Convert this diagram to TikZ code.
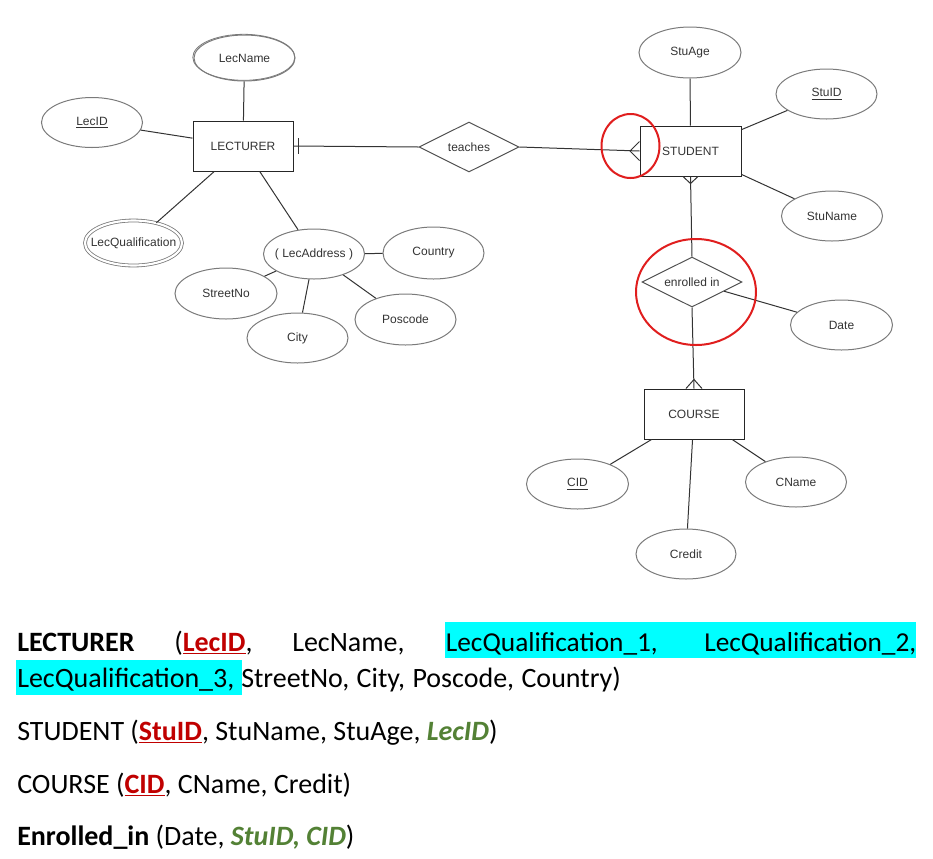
\documentclass[tikz,border=0pt]{standalone}
\usepackage{fontspec}
\setmainfont{Carlito}
\newfontfamily\arialf{Liberation Sans}
\usetikzlibrary{shapes.geometric,calc}
\definecolor{keyred}{HTML}{C00000}
\definecolor{fkgreen}{HTML}{538135}
\definecolor{hl}{HTML}{00FFFF}
\definecolor{circred}{HTML}{E01E1E}
\definecolor{ln}{HTML}{333333}
\definecolor{el}{HTML}{7A7A7A}
\newcommand{\pkey}[1]{\textcolor{keyred}{\textbf{\underline{#1}}}}
\newcommand{\fkey}[1]{\textcolor{fkgreen}{\textbf{\textit{#1}}}}
\newcommand{\mb}[1]{\makebox[0pt]{#1}}
\newcommand{\xs}{\hspace{0.8pt}}
\begin{document}
\begin{tikzpicture}[x=0.75pt,y=-0.75pt,
  dfont/.style={font=\arialf\fontsize{9}{10}\selectfont, text=ln},
  attr/.style={ellipse, draw=el, line width=0.75pt, inner sep=0pt,
    minimum width=101*0.75pt, minimum height=50*0.75pt, dfont},
  ent/.style={rectangle, draw=black!85, line width=0.75pt, inner sep=0pt,
    minimum width=100*0.75pt, minimum height=50*0.75pt, dfont},
  rel/.style={diamond, aspect=2, draw=ln!85, line width=0.75pt, inner sep=0pt,
    minimum width=100*0.75pt, minimum height=50*0.75pt, dfont},
  conn/.style={draw=ln, line width=0.75pt},
  hilite/.style={ellipse, draw=circred, line width=1.5pt, inner sep=0pt},
  body/.style={anchor=base west, inner sep=0pt, font=\fontsize{21}{24}\selectfont},
  bodyq/.style={anchor=base west, inner sep=0pt, font=\fontsize{20.5}{24}\selectfont}]
\useasboundingbox (0,0) rectangle (933,858);

% ---------- entities ----------
\node[ent] (lecturer) at (243,146) {LECTURER};
\node[ent, minimum width=101*0.75pt] (student) at (690.5,151) {STUDENT};
\node[ent] (course) at (694,414) {COURSE};

% ---------- relationships ----------
\node[rel] (teaches) at (469,147) {teaches};
\node[rel] (enr) at (692,282) {enrolled in};

% ---------- attributes ----------
\draw[el, line width=0.6pt] (243.8,57.3) ellipse [x radius=51, y radius=23];
\node[attr, minimum height=46*0.75pt] (lecname) at (244.5,58) {\mb{LecName}};
\node[attr] (lecid) at (92,122.5) {\mb{\underline{LecID}}};
\node[attr, double, double distance=1.6pt, line width=0.6pt, minimum width=97*0.75pt, minimum height=45*0.75pt] (lecqual) at (133.5,243) {\mb{LecQualification}};
\node[attr] (lecaddr) at (314,254) {\mb{( LecAddress )}};
\node[attr, minimum height=52*0.75pt] (country) at (433.5,253) {\mb{Country}};
\node[attr, minimum width=102*0.75pt, minimum height=51*0.75pt] (street) at (226,293.5) {\mb{StreetNo}};
\node[attr] (city) at (297.5,338) {\mb{City}};
\node[attr, minimum height=51*0.75pt] (poscode) at (405.5,319.5) {\mb{Poscode}};

\node[attr, minimum width=102*0.75pt, minimum height=51*0.75pt] (stuage) at (690,52.5) {\mb{StuAge}};
\node[attr] (stuid) at (826.5,94) {\mb{\underline{StuID}}};
\node[attr] (stuname) at (832,216) {\mb{StuName}};
\node[attr, minimum width=102*0.75pt] (date) at (841.5,325) {\mb{Date}};
\node[attr, minimum width=102*0.75pt] (cid) at (577.5,484) {\mb{\underline{CID}}};
\node[attr] (cname) at (796,482) {\mb{CName}};
\node[attr, minimum width=100*0.75pt] (credit) at (686,554) {\mb{Credit}};

% ---------- connectors ----------
\draw[conn] (lecname) -- (lecturer);
\draw[conn] (lecid) -- (lecturer);
\draw[conn] (lecqual) -- (lecturer);
\draw[conn] (lecaddr) -- (lecturer);
\draw[conn] (lecaddr) -- (country);
\draw[conn] (lecaddr) -- (street);
\draw[conn] (lecaddr) -- (city);
\draw[conn] (lecaddr) -- (poscode);

\draw[conn] (lecturer.east) -- (teaches.west);
\draw[conn] ($(lecturer.east)+(5,-8)$) -- ($(lecturer.east)+(5,8)$);
\draw[conn] (teaches.east) -- (student.west);
\draw[conn] ($(student.west)+(0,-9.5)$) -- ($(student.west)+(-9.5,0)$) -- ($(student.west)+(0,9.5)$);

\draw[conn] (stuage) -- (student);
\draw[conn] (stuid) -- (student);
\draw[conn] (stuname) -- (student);

\draw[conn] (student.south) -- (enr.north);
\draw[conn] ($(student.south)+(-7.5,0)$) -- ($(student.south)+(0,7)$) -- ($(student.south)+(7.5,0)$);
\draw[conn] (enr) -- (date);
\draw[conn] (enr.south) -- (course.north);
\draw[conn] ($(course.north)+(-8,0)$) -- ($(course.north)+(0,-9)$) -- ($(course.north)+(8,0)$);

\draw[conn] (course) -- (cid);
\draw[conn] (course) -- (cname);
\draw[conn] (course) -- (credit);

% ---------- red highlight circles ----------
\node[hilite, minimum width=58*0.75pt, minimum height=64*0.75pt] (circA) at (630.5,146) {};
\node[hilite, minimum width=120*0.75pt, minimum height=106*0.75pt] (circB) at (696,292) {};

% ---------- schema text ----------
\fill[hl] (445,622) rectangle (916,658);
\fill[hl] (16,660) rectangle (242,695);

\node[body] (l1a) at (17,651) {\textbf{LECTURER}};
\node[body] (l1b) at (174,651) {(\pkey{LecID},};
\node[body] (l1c) at (292,651) {LecName,};
\node[bodyq] (l1d) at (445.6,651) {LecQualification\_1,};
\node[bodyq] (l1e) at (704,651) {LecQualification\_2,};
\node[body] (l2a) at (17,687) {LecQualification\_3,};
\node[body] (l2b) at (241,687) {StreetNo, \xs City, \xs Poscode, \xs Country)};
\node[body] (l3) at (17,740) {STUDENT (\pkey{StuID}, StuName, StuAge, \fkey{LecID})};
\node[body] (l4) at (17,793) {COURSE (\pkey{CID}, CName, Credit)};
\node[body] (l5) at (17,845) {\textbf{Enrolled\_in} (Date, \fkey{StuID, CID})};
\end{tikzpicture}
\end{document}
